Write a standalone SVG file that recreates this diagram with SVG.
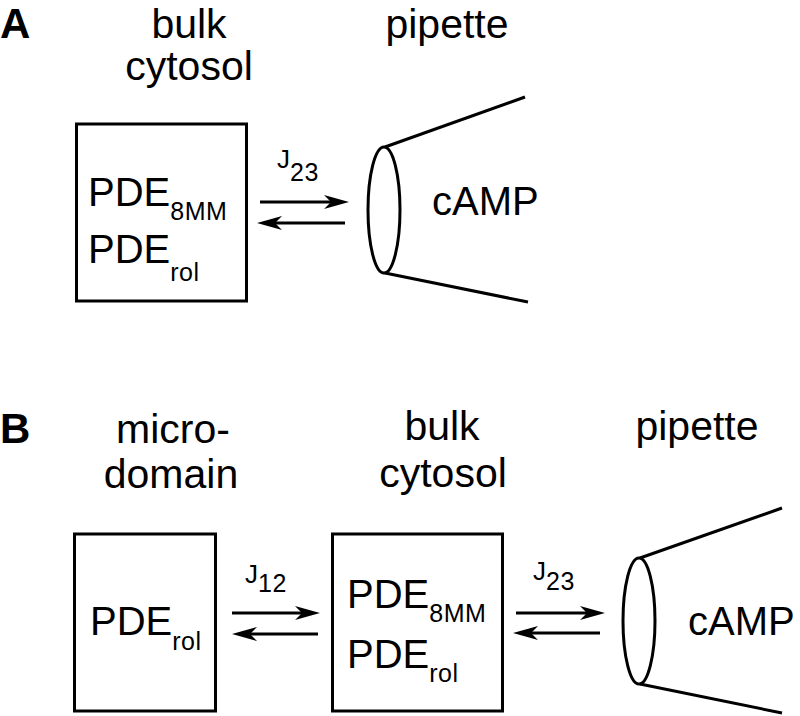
<svg xmlns="http://www.w3.org/2000/svg" width="800" height="716" viewBox="0 0 800 716">
<defs>
<style>
text{font-family:"Liberation Sans",Arial,sans-serif;fill:#000}
.lbl{font-size:41px}
.big{font-size:40px}
.sub{font-size:25px;letter-spacing:0.5px}
.j{font-size:26px}
.panel{font-size:42px;font-weight:bold}
.box{fill:#fff;stroke:#000;stroke-width:3}
.pip{fill:none;stroke:#000;stroke-width:3}
.arr{stroke:#000;stroke-width:3;fill:none;marker-end:url(#ah)}
</style>
<marker id="ah" markerUnits="userSpaceOnUse" viewBox="-16 -8 28 16" refX="0" refY="0" markerWidth="28" markerHeight="16" orient="auto">
<path d="M10,0 L-15,-7 L-8,0 L-15,7 Z" fill="#000"/>
</marker>
</defs>
<rect width="800" height="716" fill="#fff"/>

<g id="panelA">
<text class="panel" x="0" y="38">A</text>
<g id="a-bulk">
<text class="lbl" x="189" y="38" text-anchor="middle">bulk</text>
<text class="lbl" x="189" y="80" text-anchor="middle">cytosol</text>
<rect class="box" x="76.5" y="124" width="170" height="177"/>
<text class="big" x="88" y="206">PDE<tspan class="sub" dy="14">8MM</tspan></text>
<text class="big" x="88" y="263">PDE<tspan class="sub" dy="18">rol</tspan></text>
</g>
<g id="a-pipette">
<text class="lbl" x="447" y="38" text-anchor="middle">pipette</text>
<ellipse class="pip" cx="384" cy="210" rx="16" ry="63"/>
<line class="pip" x1="385" y1="147" x2="525" y2="97"/>
<line class="pip" x1="385" y1="273" x2="528" y2="302"/>
<text class="big" x="432" y="215">cAMP</text>
</g>
<g id="a-connectors">
<text class="j" x="277" y="168">J<tspan class="sub" dy="13">23</tspan></text>
<line class="arr" x1="260" y1="202" x2="339" y2="202"/>
<line class="arr" x1="345" y1="223" x2="267" y2="223"/>
</g>
</g>

<g id="panelB">
<text class="panel" x="0" y="443">B</text>
<g id="b-micro">
<text class="lbl" x="173" y="443" text-anchor="middle">micro-</text>
<text class="lbl" x="171" y="488" text-anchor="middle">domain</text>
<rect class="box" x="74.5" y="534" width="141" height="177"/>
<text class="big" x="90" y="635">PDE<tspan class="sub" dy="15">rol</tspan></text>
</g>
<g id="b-bulk">
<text class="lbl" x="442" y="440" text-anchor="middle">bulk</text>
<text class="lbl" x="443" y="487" text-anchor="middle">cytosol</text>
<rect class="box" x="332.5" y="534" width="170" height="177"/>
<text class="big" x="347" y="608">PDE<tspan class="sub" dy="14">8MM</tspan></text>
<text class="big" x="347" y="668">PDE<tspan class="sub" dy="14">rol</tspan></text>
</g>
<g id="b-pipette">
<text class="lbl" x="697" y="440" text-anchor="middle">pipette</text>
<ellipse class="pip" cx="639" cy="621" rx="16" ry="63"/>
<line class="pip" x1="640" y1="558" x2="782" y2="508"/>
<line class="pip" x1="640" y1="684" x2="782" y2="713"/>
<text class="big" x="688" y="635">cAMP</text>
</g>
<g id="b-connectors">
<text class="j" x="245" y="583">J<tspan class="sub" dy="9">12</tspan></text>
<line class="arr" x1="232" y1="613" x2="310" y2="613"/>
<line class="arr" x1="318" y1="634" x2="242" y2="634"/>
<text class="j" x="533" y="580">J<tspan class="sub" dy="10">23</tspan></text>
<line class="arr" x1="516" y1="613" x2="595" y2="613"/>
<line class="arr" x1="600" y1="633" x2="523" y2="633"/>
</g>
</g>
</svg>
